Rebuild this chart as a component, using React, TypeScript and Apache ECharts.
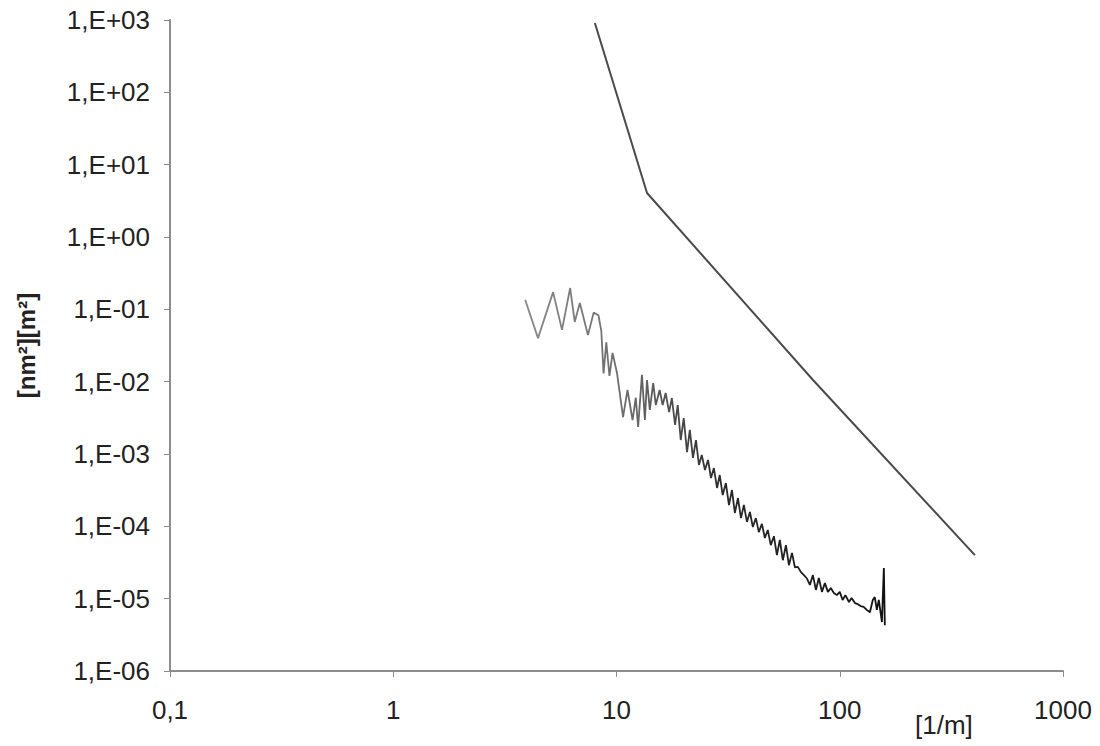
import React, { useEffect, useRef } from "react";
import * as echarts from "echarts";

const xTickValues = [0.1, 1, 10, 100, 1000];
const xTickLabels = ["0,1", "1", "10", "100", "1000"];
const yTickValues = [1e-6, 1e-5, 1e-4, 1e-3, 1e-2, 1e-1, 1, 10, 100, 1000];
const yTickLabels = ["1,E-06", "1,E-05", "1,E-04", "1,E-03", "1,E-02", "1,E-01", "1,E+00", "1,E+01", "1,E+02", "1,E+03"];

// upper (limit) line
const limitX = [8.0, 13.7, 75.9, 403];
const limitY = [910, 4.06, 0.01054, 4.0e-5];

// measured spectrum (noisy)
const specX = [
  3.9, 4.45, 5.2, 5.7, 6.2, 6.5, 6.85, 7.45, 7.9, 8.3, 8.55, 8.75, 9.0, 9.3, 9.6,
  10.05, 10.7, 11.2, 11.8, 12.2, 12.5, 13.0, 13.4, 13.7, 14.1, 14.6, 15.0, 15.6, 16.1,
  16.6, 17.2, 17.7, 18.3, 18.8, 19.4, 20.0, 20.7, 21.3, 22.0, 22.7, 23.4, 24.1, 24.9,
  25.7, 26.5, 27.3, 28.2, 29.0, 29.9, 30.9, 31.9, 32.9, 33.9, 35.0, 36.1, 37.2, 38.4,
  39.6, 40.8, 42.1, 43.4, 44.8, 46.2, 47.6, 49.1, 50.7, 52.3, 53.9, 55.6, 57.4, 59.2,
  61.1, 63.0, 64.9, 67.0, 69.1, 71.3, 73.5, 75.8, 78.2, 80.6, 83.2, 85.8, 88.5, 91.2,
  94.1, 97.0, 100, 103, 106, 110, 113, 117, 120.5, 124, 128, 132, 136.5, 140.6, 143.5,
  146.6, 149.6, 154.5, 157.6, 159.2,
];
const specY = [
  0.135, 0.04, 0.173, 0.052, 0.197, 0.067, 0.122, 0.044, 0.09, 0.083, 0.05, 0.013, 0.035, 0.012, 0.025,
  0.0132, 0.00324, 0.00767, 0.00295, 0.006, 0.00236, 0.0124, 0.00295, 0.0105, 0.00406, 0.00958, 0.00475, 0.00767, 0.00475,
  0.00697, 0.0038, 0.00594, 0.00252, 0.00475, 0.00156, 0.00314, 0.00106, 0.00215, 0.00088, 0.00156, 0.000705, 0.00097, 0.000601,
  0.000826, 0.000466, 0.00064, 0.000339, 0.000512, 0.000271, 0.000397, 0.000197, 0.000318, 0.000153, 0.000246, 0.00013, 0.000197, 0.000115,
  0.000158, 0.000098, 0.00013, 0.000083, 0.000108, 0.000069, 0.000089, 0.000055, 0.000073, 0.00004, 0.000065, 0.000034, 0.000055, 0.000029,
  0.000043, 0.000027, 0.0000275, 0.0000233, 0.0000212, 0.000019, 0.0000155, 0.0000212, 0.0000132, 0.0000193, 0.0000124, 0.0000164, 0.0000124, 0.000014,
  0.000012, 0.0000112, 0.0000124, 0.0000096, 0.0000112, 0.000009, 0.0000102, 0.0000087, 0.0000084, 0.0000079, 0.0000077, 0.000007, 0.0000065, 0.0000096, 0.0000105,
  0.000007, 0.0000096, 0.00000475, 0.0000265, 0.0000043,
];

const FONT = "'Liberation Sans', Arial, sans-serif";

function labelFor(values: number[], labels: string[], v: number): string {
  const i = values.findIndex((t) => Math.abs(Math.log10(t) - Math.log10(v)) < 1e-6);
  return i >= 0 ? labels[i] : "";
}

export default function App() {
  const ref = useRef<HTMLDivElement>(null);
  useEffect(() => {
    const chart = echarts.init(ref.current!, null, { renderer: "svg" });
    const limitData = limitX.map((x, i) => [x, limitY[i]]);
    const specData = specX.map((x, i) => [x, specY[i]]);
    chart.setOption({
      animation: false,
      backgroundColor: "#ffffff",
      grid: { left: 170, right: 37, top: 20, bottom: 75, outerBoundsMode: "none", containLabel: false },
      xAxis: {
        type: "log",
        logBase: 10,
        min: 0.1,
        max: 1000,
        interval: 1,
        axisLine: { show: true, lineStyle: { color: "#8c8c8c", width: 2 } },
        axisTick: { show: true, inside: false, length: 6, lineStyle: { color: "#8c8c8c", width: 1 } },
        minorTick: { show: false },
        splitLine: { show: false },
        axisLabel: {
          margin: 26,
          fontSize: 26,
          color: "#222",
          fontFamily: FONT,
          formatter: (v: number) => labelFor(xTickValues, xTickLabels, v),
        },
      },
      yAxis: {
        type: "log",
        logBase: 10,
        min: 1e-6,
        max: 1000,
        interval: 1,
        name: "[nm²][m²]",
        nameLocation: "middle",
        nameRotate: 90,
        nameGap: 132,
        nameTextStyle: { fontSize: 24, fontWeight: "bold", color: "#222", fontFamily: FONT },
        axisLine: { show: true, lineStyle: { color: "#8c8c8c", width: 2 } },
        axisTick: { show: true, inside: false, length: 6, lineStyle: { color: "#8c8c8c", width: 1 } },
        minorTick: { show: false },
        splitLine: { show: false },
        axisLabel: {
          margin: 20,
          fontSize: 26,
          color: "#222",
          fontFamily: FONT,
          formatter: (v: number) => labelFor(yTickValues, yTickLabels, v),
        },
      },
      graphic: [
        {
          type: "text",
          left: 915,
          top: 712,
          style: { text: "[1/m]", fontSize: 26, fill: "#222", fontFamily: FONT },
        },
      ],
      series: [
        {
          type: "line",
          data: limitData,
          symbol: "none",
          lineStyle: { color: "#4a4a4a", width: 2 },
          z: 3,
        },
        {
          type: "line",
          data: specData,
          symbol: "none",
          lineStyle: {
            width: 1.8,
            color: new echarts.graphic.LinearGradient(0, 0, 1, 0, [
              { offset: 0, color: "#8a8a8a" },
              { offset: 0.3, color: "#6a6a6a" },
              { offset: 0.55, color: "#2a2a2a" },
              { offset: 1, color: "#111" },
            ]),
          },
          z: 2,
        },
      ],
    });
    return () => chart.dispose();
  }, []);
  return (
    <div
      ref={ref}
      style={{ position: "fixed", left: 0, top: 0, width: 1100, height: 746, background: "#fff" }}
    />
  );
}
